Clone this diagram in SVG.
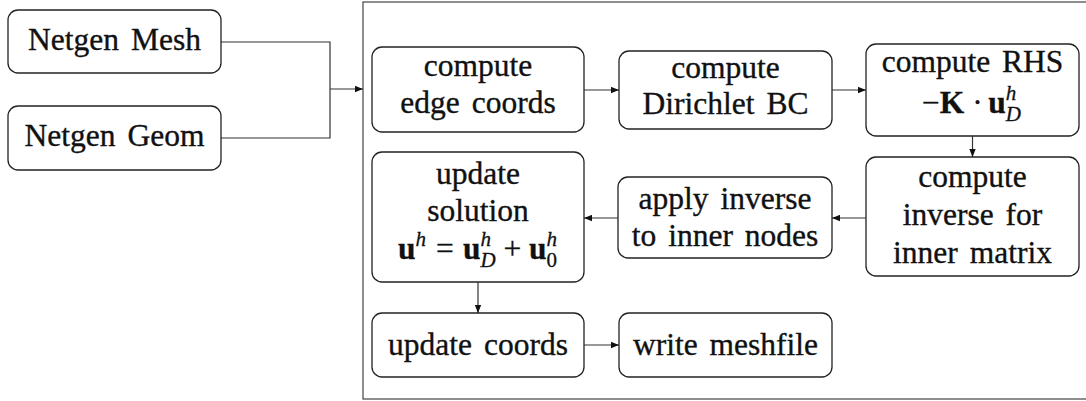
<svg xmlns="http://www.w3.org/2000/svg" width="1086" height="401" viewBox="0 0 1086 401">
  <style>
    .box { fill: #ffffff; stroke: #222222; stroke-width: 1.3; }
    .frame { fill: none; stroke: #444444; stroke-width: 1.2; }
    .edge { fill: none; stroke: #333333; stroke-width: 1.2; }
    .lbl { font-family: "Liberation Serif", "Times New Roman", serif; font-size: 31.5px; fill: #111111; stroke: #111111; stroke-width: 0.35; text-anchor: middle; word-spacing: 4px; }
    .m { font-family: "Liberation Serif", "Times New Roman", serif; font-size: 31.5px; fill: #111111; stroke: #111111; stroke-width: 0.3; }
    .b { font-weight: bold; }
    .s { font-size: 21px; font-style: italic; }
    .s0 { font-size: 21px; }
  </style>
  <defs>
    <marker id="arrow" viewBox="0 0 10 8" refX="10" refY="4" markerWidth="8" markerHeight="7" markerUnits="userSpaceOnUse" orient="auto">
      <path d="M0,0 L10,4 L0,8 Z" fill="#111111"/>
    </marker>
  </defs>

  <!-- processing frame -->
  <rect class="frame" x="363" y="2" width="740" height="397"/>

  <!-- inputs -->
  <g id="netgen-mesh">
    <rect class="box" x="8" y="10" width="213" height="63" rx="10"/>
    <text class="lbl" x="114.5" y="50">Netgen Mesh</text>
  </g>
  <g id="netgen-geom">
    <rect class="box" x="8" y="106" width="213" height="64" rx="10"/>
    <text class="lbl" x="114.5" y="146">Netgen Geom</text>
  </g>

  <!-- pipeline steps -->
  <g id="edge-coords">
    <rect class="box" x="372" y="47" width="212" height="85" rx="10"/>
    <text class="lbl" x="478" y="76">compute</text>
    <text class="lbl" x="478" y="113">edge coords</text>
  </g>
  <g id="dirichlet">
    <rect class="box" x="619" y="51" width="213" height="78" rx="10"/>
    <text class="lbl" x="725.5" y="78">compute</text>
    <text class="lbl" x="725.5" y="114">Dirichlet BC</text>
  </g>
  <g id="rhs">
    <rect class="box" x="866" y="44" width="213" height="92" rx="10"/>
    <text class="lbl" x="972.5" y="72">compute RHS</text>
    <text class="m">
      <tspan x="922" y="113">−</tspan><tspan class="b" x="939.8" y="113">K</tspan><tspan x="972.3" y="113">·</tspan><tspan class="b" x="988.2" y="113">u</tspan><tspan class="s" x="1005.7" y="100">h</tspan><tspan class="s" x="1005.7" y="121">D</tspan>
    </text>
  </g>
  <g id="inverse">
    <rect class="box" x="866" y="157" width="213" height="119" rx="10"/>
    <text class="lbl" x="972.5" y="187">compute</text>
    <text class="lbl" x="972.5" y="225">inverse for</text>
    <text class="lbl" x="972.5" y="263">inner matrix</text>
  </g>
  <g id="apply-inverse">
    <rect class="box" x="618" y="177" width="214" height="81" rx="10"/>
    <text class="lbl" x="725" y="209">apply inverse</text>
    <text class="lbl" x="725" y="246">to inner nodes</text>
  </g>
  <g id="update-solution">
    <rect class="box" x="372" y="152" width="212" height="130" rx="10"/>
    <text class="lbl" x="478" y="184">update</text>
    <text class="lbl" x="478" y="221">solution</text>
    <text class="m">
      <tspan class="b" x="398" y="259">u</tspan><tspan class="s" x="415.5" y="246">h</tspan><tspan x="436" y="259">=</tspan><tspan class="b" x="463" y="259">u</tspan><tspan class="s" x="480.5" y="246">h</tspan><tspan class="s" x="480.5" y="267">D</tspan><tspan x="503.5" y="259">+</tspan><tspan class="b" x="529" y="259">u</tspan><tspan class="s" x="546.5" y="246">h</tspan><tspan class="s0" x="546.5" y="267">0</tspan>
    </text>
  </g>
  <g id="update-coords">
    <rect class="box" x="372" y="313" width="212" height="64" rx="10"/>
    <text class="lbl" x="478" y="355">update coords</text>
  </g>
  <g id="write-meshfile">
    <rect class="box" x="619" y="313" width="213" height="64" rx="10"/>
    <text class="lbl" x="725.5" y="355">write meshfile</text>
  </g>

  <!-- connectors -->
  <g id="connectors">
    <path class="edge" d="M221,42 H330 V89"/>
    <path class="edge" d="M221,138 H330 V89"/>
    <path class="edge" d="M330,89 H363" marker-end="url(#arrow)"/>
    <path class="edge" d="M584,90 H619" marker-end="url(#arrow)"/>
    <path class="edge" d="M832,90 H866" marker-end="url(#arrow)"/>
    <path class="edge" d="M972.5,136 V157" marker-end="url(#arrow)"/>
    <path class="edge" d="M866,218 H832" marker-end="url(#arrow)"/>
    <path class="edge" d="M618,218 H584" marker-end="url(#arrow)"/>
    <path class="edge" d="M478,282 V313" marker-end="url(#arrow)"/>
    <path class="edge" d="M584,345 H619" marker-end="url(#arrow)"/>
  </g>
</svg>
